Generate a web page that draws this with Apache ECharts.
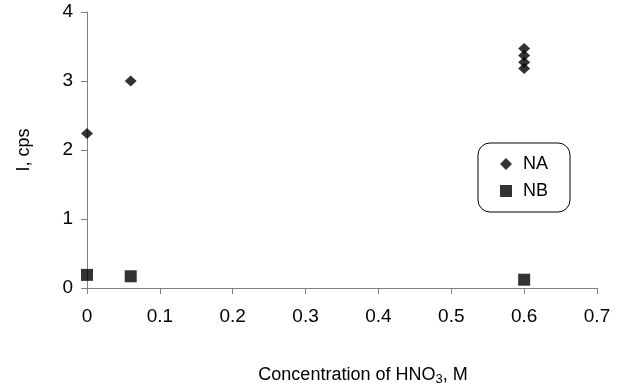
<!DOCTYPE html>
<html>
<head>
<meta charset="utf-8">
<script src="https://cdn.jsdelivr.net/npm/echarts@6/dist/echarts.min.js"></script>
<style>
  html, body { margin: 0; padding: 0; background: #fff; }
  #chart { width: 624px; height: 392px; }
</style>
</head>
<body>
<div id="chart"></div>
<script>
// data
const naX = [0, 0.06, 0.6, 0.6, 0.6, 0.6];
const naY = [2.24, 3.0, 3.47, 3.37, 3.27, 3.18];
const nbX = [0, 0.06, 0.6];
const nbY = [0.19, 0.17, 0.12];

const font = 'Liberation Sans, Arial, sans-serif';
const axisGray = '#808080';

const chart = echarts.init(document.getElementById('chart'));
chart.setOption({
    animation: false,
    textStyle: { fontFamily: font },
    grid: { left: 87, right: 27, top: 12, bottom: 104 },
    legend: {
        orient: 'vertical',
        left: 478, top: 143,
        padding: [12, 22, 12, 22],
        itemGap: 9,
        itemWidth: 12, itemHeight: 12,
        borderColor: '#000', borderWidth: 1, borderRadius: 12,
        textStyle: { fontSize: 18, color: '#000', fontFamily: font, padding: [0, 0, 0, 6] },
        data: [
            { name: 'NA', icon: 'diamond' },
            { name: 'NB', icon: 'rect' }
        ]
    },
    xAxis: {
        type: 'value',
        min: 0, max: 0.7, interval: 0.1,
        name: 'Concentration of HNO{sub|3}, M',
        nameLocation: 'middle',
        nameGap: 76,
        nameTextStyle: {
            fontSize: 18, color: '#000', padding: [0, 0, 0, 42],
            rich: { sub: { fontSize: 13, verticalAlign: 'bottom', padding: [9, 0, 0, 0] } }
        },
        splitLine: { show: false },
        axisLine: { lineStyle: { color: axisGray } },
        axisTick: { show: true, length: 6, lineStyle: { color: axisGray } },
        axisLabel: { fontSize: 19, color: '#000', margin: 19, formatter: v => String(+v.toFixed(1)) }
    },
    yAxis: {
        type: 'value',
        min: 0, max: 4, interval: 1,
        name: 'I, cps',
        nameLocation: 'middle',
        nameGap: 54,
        nameTextStyle: { fontSize: 18, color: '#000' },
        splitLine: { show: false },
        axisLine: { show: true, lineStyle: { color: axisGray } },
        axisTick: { show: true, length: 6, lineStyle: { color: axisGray } },
        axisLabel: { fontSize: 19, color: '#000', margin: 14 }
    },
    series: [
        {
            name: 'NA', type: 'scatter', symbol: 'diamond', symbolSize: [12, 11],
            itemStyle: { color: '#000' },
            data: naX.map((x, i) => [x, naY[i]])
        },
        {
            name: 'NB', type: 'scatter', symbol: 'rect', symbolSize: 12,
            itemStyle: { color: '#000' },
            data: nbX.map((x, i) => [x, nbY[i]])
        }
    ]
});
</script>
</body>
</html>
